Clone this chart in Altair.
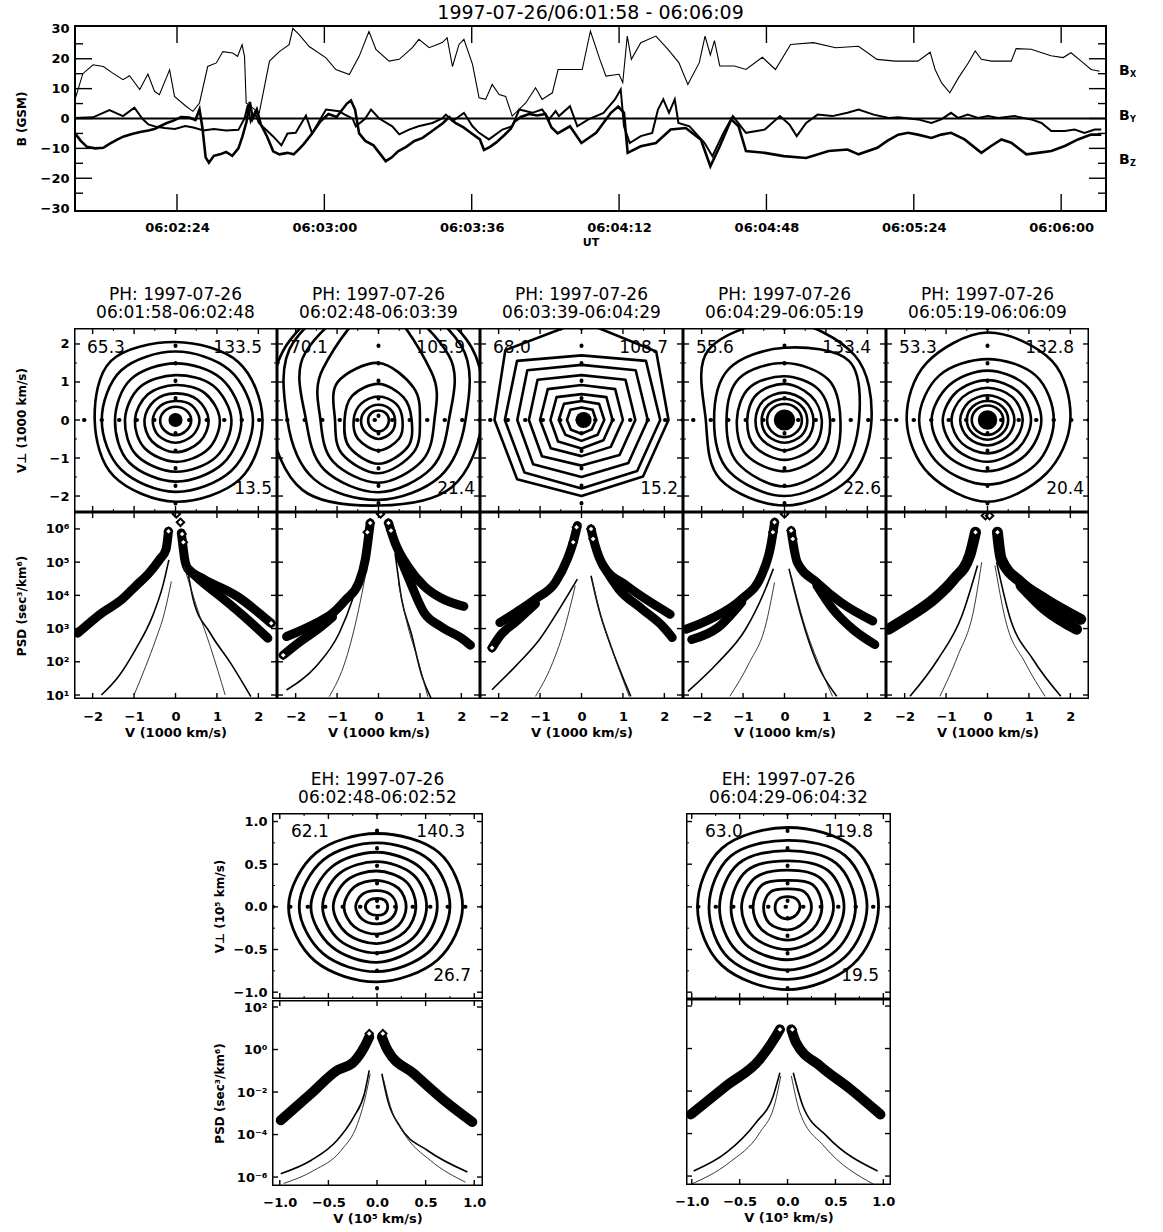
import math
import pandas as pd
import altair as alt

FONT = "DejaVu Sans"

# ---------------- magnetic field (nT), time in seconds after 06:01:58 UT ----------------
BX_T = [1.2, 3.0, 5.5, 8.0, 10.3, 12.8, 14.4, 16.9, 18.9, 20.5, 21.7, 24.2, 25.4, 28.2, 29.9,
        31.5, 33.5, 35.6, 37.2, 39.6, 40.8, 41.9, 42.5, 42.9, 46.1, 48.6, 51.0, 53.4, 54.3, 55.9,
        58.3, 62.4, 64.8, 68.1, 70.5, 72.9, 74.6, 77.8, 80.3, 83.5, 85.1, 87.6, 90.8, 92.0, 93.3,
        94.9, 96.1, 98.2, 99.8, 101.4, 103.0, 104.7, 106.3, 107.9, 111.2, 113.6, 115.2, 117.7, 119.1,
        125.0, 127.0, 129.3, 130.8, 134.0, 134.9, 136.0, 137.0, 139.3, 143.0, 145.9, 148.6, 150.8,
        153.6, 155.0, 156.3, 157.3, 158.6, 162.2, 165.0, 169.0, 172.2, 175.9, 181.5, 186.9, 192.5,
        197.0, 201.5, 207.0, 210.0, 211.2, 212.8, 214.8, 216.9, 219.3, 221.0, 222.5, 225.0, 229.8,
        231.0, 234.7, 239.5, 242.5, 244.4, 246.9, 249.3, 251.4]
BX_V = [6.9, 15.0, 18.0, 17.4, 15.2, 13.0, 14.3, 9.7, 14.9, 9.1, 8.0, 16.3, 7.4, 4.1, 2.4,
        5.2, 17.4, 18.6, 22.4, 21.9, 20.8, 24.7, 20.8, 5.2, 1.9, 19.2, 22.4, 24.7, 30.2, 28.0,
        24.1, 20.3, 16.4, 14.7, 20.8, 29.1, 23.1, 19.2, 19.8, 23.7, 26.5, 23.7, 25.4, 27.0, 17.4,
        24.8, 26.5, 18.1, 6.9, 6.4, 11.4, 8.0, 7.4, 0.8, 5.2, 10.3, 6.4, 8.6, 16.4,
        16.4, 29.3, 19.8, 14.2, 14.8, 12.0, 27.6, 19.8, 25.4, 27.6, 23.2, 18.7, 11.4,
        18.7, 27.6, 21.3, 26.1, 17.6, 17.6, 16.4, 20.5, 16.4, 24.8, 25.4, 23.7, 24.2,
        19.8, 19.2, 19.2, 22.2, 16.4, 11.9, 8.6, 13.6, 18.6, 22.6, 19.8, 19.2, 19.2,
        23.4, 23.2, 21.0, 20.4, 22.0, 19.2, 16.4, 15.8]

BY_T = [1.0, 5.5, 9.5, 12.8, 15.6, 17.5, 19.0, 21.0, 23.0, 25.5, 28.0, 30.0, 32.5, 35.0, 38.0,
        41.0, 42.5, 43.3, 44.0, 45.0, 46.0, 49.5, 51.5, 53.0, 55.0, 57.5, 59.0, 62.4, 65.6, 67.0,
        68.9, 69.7, 72.0, 73.4, 75.4, 78.6, 80.3, 82.7, 85.0, 88.4, 90.8, 91.7, 93.3, 96.1, 98.2,
        99.8, 102.2, 105.5, 107.9, 109.6, 112.8, 115.2, 116.9, 118.5,
        119.3, 122.0, 123.8, 126.5, 130.2, 133.0, 134.4, 135.2, 136.6, 139.3, 142.1, 143.5, 144.8,
        146.2, 147.6, 148.5, 151.2, 154.9, 156.8, 159.5, 161.8, 165.0, 169.6, 173.3, 175.6, 177.4,
        179.7, 182.5, 186.1, 189.8, 192.5, 196.2, 199.9,
        202.2, 207.0, 210.3, 212.7, 215.1, 216.8, 219.2, 221.7, 224.1, 226.6, 230.6, 234.7, 237.2,
        239.6, 242.9, 245.3, 247.7, 250.2, 251.8]
BY_V = [0.2, 0.4, 2.8, 0.8, 3.6, 0.0, -2.0, -2.8, -3.2, -3.5, -2.5, -3.0, -4.0, -3.5, -4.0,
        -3.8, 0.0, 4.5, -1.0, 2.0, -1.5, -6.0, -9.0, -5.0, -4.8, 1.0, -5.0, 3.0, 2.4, 1.3,
        0.0, -2.6, 0.0, 3.0, 0.0, -2.6, -5.3, -3.7, -2.6, -1.5, 0.0, 1.3, -0.9, 1.9, -2.6,
        -4.8, -7.0, -3.7, -2.6, 3.0, 1.9, 3.0, -0.3, 2.5,
        0.8, 4.1, -2.6, -0.3, 1.9, 6.4, 9.7, -2.6, -8.2, -5.9, -4.8, 3.0, 6.4,
        1.9, 6.4, -1.5, -2.6, -8.2, -12.6, -4.8, 0.8, -4.8, -3.7, 0.8, -2.0, -5.9,
        -1.5, 1.3, 0.8, 1.9, 3.0, 1.3, 0.2,
        0.4, -0.3, -1.5, -0.3, 1.9, 0.2, 1.3, 0.2, 0.8, 0.2, 0.8, -0.3, -1.5,
        -4.2, -4.2, -3.7, -4.8, -3.7, -3.7]

BZ_T = [1.0, 2.5, 4.0, 6.0, 8.0, 9.5, 11.5, 13.0, 15.0, 17.0, 19.0, 20.5, 22.0, 23.5, 25.0,
        27.0, 29.0, 30.5, 31.5, 32.2, 33.0, 33.8, 35.0, 36.5, 38.0, 39.5, 41.0, 42.0, 43.0, 43.8,
        44.5, 45.5, 46.5, 48.0, 49.5, 51.0, 53.0, 54.5, 56.0, 57.0, 59.0, 61.0, 63.0, 65.0, 67.5,
        68.5, 69.5, 70.5, 72.0, 74.0, 76.0, 77.0, 78.5, 80.0, 82.0, 84.0, 86.0, 88.0, 89.5, 91.0,
        92.5, 94.0, 96.0, 98.0, 100.0, 101.0, 102.5, 104.0, 106.0, 107.5, 108.5, 110.0, 112.0,
        114.0, 116.0, 117.5, 119.0,
        122.0, 124.8, 128.4, 132.0, 133.8, 135.2, 136.1, 139.3, 143.0, 146.6, 150.3, 154.0, 156.3,
        158.6, 161.4, 163.2, 165.0, 169.6, 174.2, 179.7, 185.2, 189.8, 192.5, 197.1, 199.5,
        202.2, 204.6, 207.0, 210.3, 212.7, 215.1, 218.4, 222.5, 224.9, 227.4, 229.8, 233.5, 236.3,
        239.6, 242.9, 246.1, 249.3, 251.8]
BZ_V = [-4.8, -7.5, -9.5, -10.0, -9.8, -8.5, -7.0, -6.0, -5.2, -4.5, -4.0, -3.5, -2.5, -1.5, -0.8,
        0.5, 0.3, -0.5, 3.0, -3.0, -13.0, -14.8, -12.5, -12.0, -11.2, -12.5, -10.0, -6.0, -1.0, 5.5,
        0.0, 3.0, -2.0, -6.0, -11.0, -12.0, -11.5, -12.0, -10.0, -8.5, -5.0, -1.0, 1.5, 0.5, 5.0,
        6.0, 3.0, -5.0, -7.5, -9.0, -12.5, -14.3, -13.0, -11.0, -9.5, -7.5, -6.5, -4.5, -3.0, -1.5,
        0.5, -1.5, -3.0, -5.0, -7.0, -10.5, -9.5, -8.0, -5.5, -3.5, -1.0, 0.5, 1.5,
        1.0, 1.5, -3.0, -5.0,
        -2.6, -8.2, -4.8, 1.9, 4.0, 1.9, -11.5, -9.3, -8.2, -3.7, -3.2, -7.1, -16.0,
        -9.3, -0.3, -2.6, -10.9, -11.5, -12.6, -13.2, -10.9, -10.4, -12.0, -9.8, -7.5,
        -5.4, -4.8, -5.4, -6.5, -5.4, -4.8, -7.0, -11.5, -9.2, -7.0, -8.1, -12.0, -11.5,
        -10.9, -9.2, -7.0, -5.4, -5.4]

TIME_TICKS = [26, 62, 98, 134, 170, 206, 242]
B_TICKS = [-30, -20, -10, 0, 10, 20, 30]
B_MAJOR_INNER = [-20, -10, 0, 10, 20]
B_MINOR_INNER = [-25, -15, -5, 5, 15, 25]
COMPONENTS = ["X", "Y", "Z"]
COMPONENT_LEVEL = [15.8, 0.7, -13.8]

# ---------------- distribution functions ----------------
# contour rings: radius at 0, 45, 90, ..., 315 degrees
RING_ANGLES = [0, 45, 90, 135, 180, 225, 270, 315]

PH_RINGS = [
    [[2.10, 2.15, 2.05, 2.20, 1.95, 2.10, 2.15, 2.20],
     [1.87, 1.85, 1.80, 1.85, 1.78, 1.85, 1.89, 1.90],
     [1.59, 1.55, 1.49, 1.52, 1.46, 1.58, 1.62, 1.62],
     [1.35, 1.28, 1.18, 1.22, 1.22, 1.32, 1.36, 1.38],
     [1.07, 1.00, 0.92, 0.95, 0.98, 1.05, 1.10, 1.10],
     [0.80, 0.75, 0.70, 0.72, 0.75, 0.80, 0.85, 0.82],
     [0.58, 0.55, 0.50, 0.52, 0.55, 0.58, 0.60, 0.58],
     [0.38, 0.36, 0.35, 0.35, 0.37, 0.38, 0.40, 0.38]],
    [[0.25, 0.25, 0.25, 0.25, 0.25, 0.27, 0.30, 0.27],
     [0.40, 0.40, 0.40, 0.40, 0.42, 0.45, 0.50, 0.45],
     [0.58, 0.60, 0.62, 0.60, 0.60, 0.70, 0.80, 0.70],
     [0.80, 0.85, 0.95, 0.90, 0.82, 1.00, 1.15, 1.00],
     [1.00, 1.20, 1.50, 1.40, 1.05, 1.25, 1.40, 1.20],
     [1.35, 1.80, 3.00, 1.90, 1.40, 1.55, 1.65, 1.50],
     [1.70, 2.40, 3.20, 2.50, 1.75, 1.85, 1.90, 1.80],
     [2.10, 2.80, 3.50, 2.90, 2.20, 2.20, 2.10, 2.10],
     [2.50, 3.00, 3.60, 3.00, 2.60, 2.60, 2.25, 2.50]],
    [[2.10, 2.55, 2.60, 2.60, 2.10, 2.20, 2.00, 2.10],
     [1.90, 2.20, 1.70, 2.20, 1.85, 1.95, 1.80, 1.90],
     [1.60, 1.85, 1.45, 1.85, 1.55, 1.65, 1.50, 1.60],
     [1.30, 1.50, 1.18, 1.50, 1.27, 1.35, 1.20, 1.30],
     [1.00, 1.15, 0.92, 1.15, 1.00, 1.05, 0.95, 1.00],
     [0.75, 0.85, 0.68, 0.85, 0.75, 0.80, 0.75, 0.75],
     [0.55, 0.60, 0.50, 0.60, 0.55, 0.55, 0.55, 0.55],
     [0.35, 0.38, 0.33, 0.38, 0.35, 0.36, 0.36, 0.35]],
    [[2.10, 2.40, 2.60, 2.60, 1.90, 2.20, 2.25, 2.20],
     [1.80, 2.20, 1.90, 1.90, 1.70, 1.90, 2.00, 1.90],
     [1.35, 1.50, 1.50, 1.55, 1.40, 1.60, 1.75, 1.60],
     [1.10, 1.15, 1.15, 1.20, 1.15, 1.30, 1.35, 1.25],
     [0.90, 0.90, 0.95, 0.95, 0.90, 1.00, 1.05, 1.00],
     [0.70, 0.70, 0.72, 0.72, 0.70, 0.75, 0.80, 0.75],
     [0.55, 0.55, 0.56, 0.56, 0.55, 0.58, 0.60, 0.58],
     [0.42, 0.42, 0.42, 0.42, 0.42, 0.43, 0.45, 0.43]],
    [[2.00, 2.20, 2.30, 2.10, 1.95, 2.00, 2.15, 2.00],
     [1.60, 1.65, 1.60, 1.65, 1.65, 1.65, 1.70, 1.65],
     [1.30, 1.30, 1.30, 1.30, 1.35, 1.35, 1.35, 1.30],
     [1.05, 1.05, 1.05, 1.05, 1.08, 1.08, 1.10, 1.05],
     [0.85, 0.85, 0.85, 0.85, 0.87, 0.87, 0.88, 0.85],
     [0.65, 0.65, 0.65, 0.65, 0.66, 0.66, 0.67, 0.65],
     [0.50, 0.50, 0.50, 0.50, 0.50, 0.50, 0.52, 0.50],
     [0.38, 0.38, 0.38, 0.38, 0.38, 0.38, 0.39, 0.38]],
]
PH_CORE = [(0.0, 0.0), None, (0.05, 0.0), (0.0, 0.0), (0.0, 0.0)]
PH_TITLES = [["PH: 1997-07-26", "06:01:58-06:02:48"],
             ["PH: 1997-07-26", "06:02:48-06:03:39"],
             ["PH: 1997-07-26", "06:03:39-06:04:29"],
             ["PH: 1997-07-26", "06:04:29-06:05:19"],
             ["PH: 1997-07-26", "06:05:19-06:06:09"]]
PH_NOTES = [["65.3", "133.5", "13.5"], ["70.1", "105.9", "21.4"], ["68.0", "108.7", "15.2"],
            ["55.6", "133.4", "22.6"], ["53.3", "132.8", "20.4"]]

# phase space density cuts: (v in 1000 km/s, log10 PSD)
PH_BANDS = [
    [[(-2.36, 2.86), (-1.79, 3.46), (-1.30, 3.87), (-0.97, 4.27), (-0.64, 4.67), (-0.39, 5.07), (-0.23, 5.38), (-0.17, 5.93)],
     [(0.14, 5.88), (0.18, 5.48), (0.22, 5.10), (0.30, 4.80), (0.67, 4.50), (1.49, 3.97), (2.31, 3.16)],
     [(0.30, 4.80), (0.60, 4.45), (1.08, 3.97), (1.66, 3.36), (2.23, 2.71)]],
    [[(-2.22, 2.76), (-1.51, 3.16), (-1.11, 3.46), (-0.79, 3.87), (-0.48, 4.37), (-0.32, 5.07), (-0.20, 6.18)],
     [(-2.30, 2.20), (-1.90, 2.60), (-1.50, 2.95), (-1.11, 3.35)],
     [(0.24, 6.18), (0.40, 5.58), (0.71, 4.87), (1.11, 4.27), (1.51, 3.92), (2.06, 3.67)],
     [(0.50, 5.20), (0.71, 4.57), (1.11, 3.46), (1.51, 3.06), (2.06, 2.66), (2.22, 2.50)]],
    [[(-1.97, 3.18), (-1.59, 3.48), (-1.11, 3.89), (-0.63, 4.39), (-0.34, 5.10), (-0.20, 5.60), (-0.10, 6.10)],
     [(-2.16, 2.42), (-1.97, 2.78), (-1.59, 3.20), (-1.11, 3.75)],
     [(0.23, 6.00), (0.33, 5.50), (0.52, 4.90), (1.09, 4.29), (1.67, 3.79), (2.14, 3.43)],
     [(0.52, 4.90), (0.90, 4.19), (1.47, 3.58), (1.95, 3.08), (2.19, 2.73)]],
    [[(-2.38, 2.98), (-1.80, 3.28), (-1.03, 3.89), (-0.56, 4.59), (-0.33, 5.50), (-0.24, 6.20)],
     [(-2.24, 2.67), (-1.61, 3.03), (-1.03, 3.80)],
     [(0.16, 5.95), (0.31, 4.99), (0.78, 4.39), (1.36, 3.79), (2.13, 3.23)],
     [(0.78, 4.30), (1.17, 3.58), (1.65, 2.98), (2.18, 2.52)]],
    [[(-2.39, 2.98), (-1.87, 3.38), (-1.29, 3.89), (-0.81, 4.49), (-0.43, 5.20), (-0.29, 5.90)],
     [(0.24, 5.90), (0.33, 5.10), (0.81, 4.39), (1.39, 3.89), (2.25, 3.28)],
     [(0.81, 4.30), (1.39, 3.58), (2.15, 2.98)]],
]
PH_PEAKS = [
    [(-0.17, 5.93), (0.02, 6.45), (0.12, 6.20), (0.16, 5.85), (0.19, 5.60), (2.31, 3.16)],
    [(-0.20, 6.18), (-0.27, 5.90), (0.05, 6.45), (0.24, 6.18), (0.30, 5.95), (-2.30, 2.20)],
    [(-0.12, 6.05), (-0.20, 5.60), (0.23, 6.00), (0.28, 5.70), (-2.16, 2.42)],
    [(-0.24, 6.20), (-0.28, 5.90), (0.00, 6.45), (0.16, 5.95), (0.20, 5.70)],
    [(-0.29, 5.90), (-0.05, 6.40), (0.05, 6.40), (0.24, 5.90)],
]
# model curves: left broad, left narrow, right broad, right narrow
PH_MODELS = [
    [[(-1.79, 1.00), (-1.38, 1.55), (-0.97, 2.36), (-0.56, 3.36), (-0.31, 4.27), (-0.16, 5.07)],
     [(-1.00, 1.00), (-0.72, 1.86), (-0.48, 2.66), (-0.27, 3.46), (-0.10, 4.42)],
     [(0.25, 5.07), (0.43, 3.87), (0.84, 2.86), (1.33, 1.96), (1.82, 0.95)],
     [(0.20, 4.90), (0.51, 3.66), (0.84, 2.46), (1.20, 1.00)]],
    [[(-2.22, 1.15), (-1.51, 1.86), (-0.95, 2.86), (-0.63, 3.87), (-0.40, 4.87)],
     [(-1.19, 0.95), (-0.79, 2.06), (-0.48, 3.57), (-0.32, 4.57)],
     [(0.40, 5.28), (0.56, 3.87), (0.79, 2.86), (1.03, 1.65), (1.27, 0.90)],
     [(0.48, 4.37), (0.71, 3.06), (0.95, 2.06), (1.19, 0.95)]],
    [[(-2.16, 1.16), (-1.59, 1.87), (-1.01, 2.68), (-0.54, 3.58), (-0.10, 4.49)],
     [(-1.11, 0.96), (-0.73, 1.87), (-0.44, 2.88), (-0.15, 4.29)],
     [(0.23, 4.59), (0.42, 3.58), (0.71, 2.47), (1.19, 0.96)],
     [(0.25, 4.50), (0.45, 3.45), (0.74, 2.36), (1.15, 0.96)]],
    [[(-2.33, 1.11), (-1.61, 1.97), (-0.94, 2.98), (-0.46, 4.19), (-0.27, 4.80)],
     [(-1.32, 0.96), (-0.85, 1.97), (-0.46, 3.08), (-0.24, 4.39)],
     [(0.11, 4.80), (0.40, 3.38), (0.78, 1.97), (1.26, 0.96)],
     [(0.16, 4.60), (0.45, 3.25), (0.88, 1.77), (1.16, 0.96)]],
    [[(-1.87, 0.96), (-1.20, 2.07), (-0.62, 3.38), (-0.24, 4.90)],
     [(-1.15, 0.96), (-0.72, 2.17), (-0.33, 3.58), (-0.14, 5.00)],
     [(0.22, 5.00), (0.53, 3.38), (1.10, 2.07), (1.77, 0.96)],
     [(0.18, 4.90), (0.43, 3.28), (0.91, 1.97), (1.39, 0.96)]],
]

EH_RINGS = [
    [[0.88, 0.90, 0.86, 0.89, 0.91, 0.90, 0.88, 0.88],
     [0.75, 0.77, 0.75, 0.78, 0.80, 0.78, 0.76, 0.75],
     [0.62, 0.64, 0.64, 0.66, 0.68, 0.66, 0.65, 0.62],
     [0.51, 0.53, 0.53, 0.55, 0.56, 0.55, 0.54, 0.52],
     [0.40, 0.42, 0.42, 0.44, 0.45, 0.44, 0.43, 0.41],
     [0.30, 0.31, 0.31, 0.33, 0.34, 0.33, 0.32, 0.31],
     [0.20, 0.20, 0.19, 0.21, 0.22, 0.21, 0.20, 0.20],
     [0.11, 0.11, 0.10, 0.11, 0.12, 0.11, 0.10, 0.11]],
    [[0.95, 0.98, 0.93, 0.97, 0.94, 0.97, 0.97, 0.96],
     [0.83, 0.85, 0.78, 0.84, 0.82, 0.86, 0.85, 0.84],
     [0.71, 0.72, 0.66, 0.72, 0.71, 0.74, 0.74, 0.72],
     [0.59, 0.60, 0.54, 0.60, 0.59, 0.62, 0.62, 0.60],
     [0.48, 0.48, 0.43, 0.48, 0.48, 0.50, 0.50, 0.48],
     [0.36, 0.37, 0.31, 0.37, 0.36, 0.38, 0.39, 0.37],
     [0.25, 0.25, 0.21, 0.25, 0.25, 0.27, 0.27, 0.25],
     [0.13, 0.13, 0.12, 0.13, 0.13, 0.14, 0.14, 0.13]],
]
EH_TITLES = [["EH: 1997-07-26", "06:02:48-06:02:52"],
             ["EH: 1997-07-26", "06:04:29-06:04:32"]]
EH_NOTES = [["62.1", "140.3", "26.7"], ["63.0", "119.8", "19.5"]]
EH_BANDS = [
    [[(-0.99, -3.33), (-0.68, -2.08), (-0.41, -0.98), (-0.24, -0.59), (-0.13, 0.12), (-0.08, 0.59)],
     [(0.05, 0.59), (0.11, -0.04), (0.38, -1.14), (0.69, -2.39), (0.98, -3.41)]],
    [[(-1.01, -3.10), (-0.64, -1.76), (-0.29, -0.51), (-0.12, 0.59), (-0.08, 0.90)],
     [(0.04, 0.90), (0.09, 0.27), (0.34, -0.82), (0.66, -1.92), (0.97, -3.10)]],
]
EH_PEAKS = [[(-0.08, 0.75), (0.06, 0.75)], [(-0.08, 0.90), (0.05, 0.90)]]
EH_MODELS = [
    [[(-0.99, -5.84), (-0.68, -5.22), (-0.41, -4.27), (-0.24, -3.18), (-0.13, -2.08), (-0.08, -0.98)],
     [(-0.96, -6.30), (-0.65, -5.69), (-0.37, -4.75), (-0.20, -3.49), (-0.12, -2.24), (-0.07, -1.14)],
     [(0.05, -1.14), (0.11, -2.39), (0.24, -3.65), (0.52, -4.75), (0.93, -5.76)],
     [(0.07, -1.45), (0.14, -2.70), (0.28, -3.96), (0.55, -5.22), (0.91, -6.24)]],
    [[(-0.98, -5.76), (-0.64, -4.90), (-0.33, -3.49), (-0.15, -2.24), (-0.08, -1.14)],
     [(-1.01, -6.39), (-0.61, -5.37), (-0.29, -3.96), (-0.13, -2.55), (-0.07, -1.29)],
     [(0.06, -1.14), (0.16, -2.70), (0.41, -4.12), (0.94, -5.76)],
     [(0.04, -1.29), (0.13, -3.02), (0.38, -4.59), (0.90, -6.39)]],
]

SUP = str.maketrans("-0123456789", "⁻⁰¹²³⁴⁵⁶⁷⁸⁹")


def decade_label_expr(emin, emax):
    names = ["'10" + str(e).translate(SUP) + "'" for e in range(emin, emax + 1)]
    return "[" + ",".join(names) + "][round(log(datum.value) / LN10) - (" + str(emin) + ")]"


def ring_table(rings):
    rows = []
    for i, radii in enumerate(rings):
        for k, r in enumerate(radii):
            a = math.radians(RING_ANGLES[k])
            rows.append({"ring": i, "k": k, "vx": r * math.cos(a), "vy": r * math.sin(a)})
    return pd.DataFrame(rows)


def branch_table(branches):
    rows = []
    for i, br in enumerate(branches):
        for v, lg in br:
            rows.append({"branch": i, "v": v, "f": 10.0 ** lg})
    return pd.DataFrame(rows)


def plain_axis(**kw):
    opts = dict(ticks=False, domain=False, grid=False, labelFontSize=13, titleFontSize=12)
    opts.update(kw)
    return alt.Axis(**opts)


ONE = pd.DataFrame({"a": [0]})


def frame(w, h, width):
    # panel border, clipped so that only its inner half shows
    return alt.Chart(ONE).mark_rect(fillOpacity=0, stroke="black", strokeWidth=width, clip=True).encode(
        x=alt.value(0), x2=alt.value(w), y=alt.value(0), y2=alt.value(h))


def edge_ticks(X, Y, xt, yt, w, h, L, sw=1.4):
    layers = []
    if xt:
        m = alt.Chart(pd.DataFrame({"tx": xt})).mark_rule(color="black", strokeWidth=sw, clip=True)
        layers.append(m.encode(x=X("tx"), y=alt.value(h - L), y2=alt.value(h)))
        layers.append(m.encode(x=X("tx"), y=alt.value(0), y2=alt.value(L)))
    if yt:
        m = alt.Chart(pd.DataFrame({"ty": yt})).mark_rule(color="black", strokeWidth=sw, clip=True)
        layers.append(m.encode(y=Y("ty"), x=alt.value(0), x2=alt.value(L)))
        layers.append(m.encode(y=Y("ty"), x=alt.value(w - L), x2=alt.value(w)))
    return layers


def velocity_panel(rings, core, core_size, notes, title, w, h, xdom, ydom,
                   major, minor, y_axis, inset, ring_width, shape):
    xs = alt.Scale(domain=xdom, nice=False, zero=False)
    ys = alt.Scale(domain=ydom, nice=False, zero=False)

    def X(f):
        return alt.X(f, type="quantitative", scale=xs, axis=None)

    def Y(f):
        return alt.Y(f, type="quantitative", scale=ys, axis=y_axis)

    layers = [alt.Chart(ring_table(rings)).mark_line(
        interpolate=shape, color="black", strokeWidth=ring_width, strokeJoin="round", clip=True
    ).encode(x=X("vx"), y=Y("vy"), detail="ring:N", order=alt.Order("k:Q"))]

    zero = pd.DataFrame({"z": [0.0]})
    dots = dict(color="black", strokeWidth=4, strokeCap="round", strokeDash=[0.5, 17], clip=True)
    layers.append(alt.Chart(zero).mark_rule(**dots).encode(x=X("z")))
    layers.append(alt.Chart(zero).mark_rule(**dots).encode(y=Y("z")))

    if core is not None:
        layers.append(alt.Chart(pd.DataFrame({"cx": [core[0]], "cy": [core[1]]})).mark_circle(
            color="black", opacity=1, size=core_size, clip=True).encode(x=X("cx"), y=Y("cy")))

    lx, ty, rx, bx, by = inset
    txt = dict(font=FONT, fontSize=17, color="black", baseline="alphabetic", clip=True)
    for s, align, px, py in [(notes[0], "left", lx, ty), (notes[1], "right", w - rx, ty),
                             (notes[2], "right", w - bx, h - by)]:
        layers.append(alt.Chart(pd.DataFrame({"s": [s]})).mark_text(align=align, **txt).encode(
            text="s:N", x=alt.value(px), y=alt.value(py)))

    layers += edge_ticks(X, Y, major, major, w, h, 6)
    layers += edge_ticks(X, Y, minor, minor, w, h, 3, sw=1.0)
    layers.append(frame(w, h, 3))

    return alt.layer(*layers).properties(
        width=w, height=h,
        title=alt.TitleParams(text=title, fontSize=17, fontWeight="normal", lineHeight=18,
                              offset=6, anchor="middle", frame="group"))


def psd_panel(bands, models, peaks, w, h, xdom, ydom, x_axis, y_axis, xt, yt, band_width):
    xs = alt.Scale(domain=xdom, nice=False, zero=False)
    ys = alt.Scale(type="log", domain=ydom, nice=False)

    def X(f):
        return alt.X(f, type="quantitative", scale=xs, axis=x_axis)

    def Y(f):
        return alt.Y(f, type="quantitative", scale=ys, axis=y_axis)

    layers = [
        alt.Chart(branch_table(bands)).mark_line(
            color="black", strokeWidth=band_width, strokeCap="round", strokeJoin="round",
            interpolate="monotone", clip=True
        ).encode(x=X("v"), y=Y("f"), detail="branch:N"),
        alt.Chart(branch_table([models[0], models[2]])).mark_line(
            color="black", strokeWidth=1.6, interpolate="monotone", clip=True
        ).encode(x=X("v"), y=Y("f"), detail="branch:N"),
        alt.Chart(branch_table([models[1], models[3]])).mark_line(
            color="#222222", strokeWidth=0.9, interpolate="monotone", clip=True
        ).encode(x=X("v"), y=Y("f"), detail="branch:N"),
        alt.Chart(branch_table([peaks])).mark_point(
            shape="diamond", filled=True, fill="white", stroke="black", strokeWidth=2,
            size=55, opacity=1, clip=True
        ).encode(x=X("v"), y=Y("f")),
    ]
    layers += edge_ticks(X, Y, xt, yt, w, h, 6)
    layers.append(frame(w, h, 3))
    return alt.layer(*layers).properties(width=w, height=h)


# ---------------- top panel: field components ----------------
TOP_W, TOP_H = 1033, 187
tx_scale = alt.Scale(domain=[0.84, 253.2], nice=False, zero=False)
ty_scale = alt.Scale(domain=[-31.3, 31.3], nice=False, zero=False)
time_axis = plain_axis(values=TIME_TICKS, title="UT", labelPadding=9, titleFontSize=11, titlePadding=2,
                       labelExpr="timeFormat(datetime(1997, 6, 26, 6, 1, 58 + datum.value), '%H:%M:%S')")
b_axis = plain_axis(values=B_TICKS, title="B (GSM)", labelPadding=5, titlePadding=15,
                    minExtent=31, maxExtent=31)


def TX(f):
    return alt.X(f, type="quantitative", scale=tx_scale, axis=time_axis)


def TY(f):
    return alt.Y(f, type="quantitative", scale=ty_scale, axis=b_axis)


bx_df = pd.DataFrame({"t": BX_T, "B": BX_V})
by_df = pd.DataFrame({"t": BY_T, "B": BY_V})
bz_df = pd.DataFrame({"t": BZ_T, "B": BZ_V})
lbl_df = pd.DataFrame({"lvl": COMPONENT_LEVEL, "b": ["B"] * 3, "c": COMPONENTS})

top_layers = [
    alt.Chart(pd.DataFrame({"z": [0.0]})).mark_rule(color="black", strokeWidth=2).encode(y=TY("z")),
    alt.Chart(bx_df).mark_line(color="black", strokeWidth=1.1).encode(x=TX("t"), y=TY("B")),
    alt.Chart(by_df).mark_line(color="black", strokeWidth=2.0).encode(x=TX("t"), y=TY("B")),
    alt.Chart(bz_df).mark_line(color="black", strokeWidth=2.6).encode(x=TX("t"), y=TY("B")),
    alt.Chart(lbl_df).mark_text(align="left", baseline="middle", font=FONT, fontSize=14,
                                fontWeight="bold", color="black").encode(
        x=alt.value(1045), y=TY("lvl"), text="b:N"),
    alt.Chart(lbl_df).mark_text(align="left", baseline="middle", font=FONT, fontSize=8,
                                fontWeight="bold", color="black", dy=4).encode(
        x=alt.value(1056), y=TY("lvl"), text="c:N"),
]
top_layers += edge_ticks(TX, TY, TIME_TICKS, B_MAJOR_INNER, TOP_W, TOP_H, 18)
top_layers += edge_ticks(TX, TY, [], B_MINOR_INNER, TOP_W, TOP_H, 9)
top_layers.append(frame(TOP_W, TOP_H, 4))

top = alt.layer(*top_layers).properties(
    width=TOP_W, height=TOP_H,
    title=alt.TitleParams(text="1997-07-26/06:01:58 - 06:06:09", fontSize=19, fontWeight="normal",
                          offset=0, anchor="middle", frame="group"))

# ---------------- middle row: five PH intervals ----------------
PH_W, PH_CH, PH_PH = 203, 184, 187
PH_XDOM, PH_YDOM = [-2.45, 2.45], [-2.42, 2.42]
PH_PSD_DOM = [10 ** 0.88, 10 ** 6.51]
PH_MAJOR = [-2, -1, 0, 1, 2]
PH_MINOR = [-1.5, -0.5, 0.5, 1.5]
PH_DECADES = [10.0 ** e for e in range(1, 7)]
PH_SHAPES = ["cardinal-closed", "cardinal-closed", "linear-closed", "cardinal-closed", "cardinal-closed"]
PH_CORE_SIZE = [200, 0, 260, 450, 380]

cols = []
for i in range(5):
    first = i == 0
    vy_axis = plain_axis(values=PH_MAJOR, format="d", title="V⊥ (1000 km/s)", labelPadding=5,
                         titlePadding=24, minExtent=22, maxExtent=22) if first else None
    contour = velocity_panel(PH_RINGS[i], PH_CORE[i], PH_CORE_SIZE[i], PH_NOTES[i],
                             PH_TITLES[i], PH_W, PH_CH, PH_XDOM, PH_YDOM, PH_MAJOR, PH_MINOR,
                             vy_axis, (13, 25, 15, 5, 18), 2.6, PH_SHAPES[i])
    px_axis = plain_axis(values=PH_MAJOR, format="d", title="V (1000 km/s)", labelPadding=11,
                         titleFontSize=13, titlePadding=3)
    py_axis = plain_axis(values=PH_DECADES, labelExpr=decade_label_expr(1, 6), title="PSD (sec³/km⁶)",
                         labelPadding=5, titlePadding=16, minExtent=30, maxExtent=30) if first else None
    psd = psd_panel(PH_BANDS[i], PH_MODELS[i], PH_PEAKS[i], PH_W, PH_PH, PH_XDOM, PH_PSD_DOM,
                    px_axis, py_axis, PH_MAJOR, PH_DECADES, 9 if i < 4 else 11)
    cols.append(alt.vconcat(contour, psd, spacing=0))

middle = alt.hconcat(*cols, spacing=0)

# ---------------- bottom row: two EH intervals ----------------
EH_WS = [211, 205]
EH_XDOMS = [[-1.08, 1.09], [-1.06, 1.08]]
EH_CH, EH_PH = 186, 186
EH_YDOM = [-1.08, 1.10]
EH_PSD_DOM = [10 ** -6.42, 10 ** 2.33]
EH_MAJOR = [-1.0, -0.5, 0.0, 0.5, 1.0]
EH_MINOR = [-0.75, -0.25, 0.25, 0.75]
EH_DECADES = [10.0 ** e for e in range(-6, 3, 2)]

eh_cols = []
for i in range(2):
    first = i == 0
    vy_axis = plain_axis(values=EH_MAJOR, format=".1f", title="V⊥ (10⁵ km/s)", labelPadding=5,
                         titlePadding=22, minExtent=24, maxExtent=24) if first else None
    contour = velocity_panel(EH_RINGS[i], None, 0, EH_NOTES[i], EH_TITLES[i], EH_WS[i], EH_CH,
                             EH_XDOMS[i], EH_YDOM, EH_MAJOR, EH_MINOR, vy_axis,
                             (19, 24, 18, 12, 18), 2.8, "cardinal-closed")
    px_axis = plain_axis(values=EH_MAJOR, format=".1f", title="V (10⁵ km/s)", labelPadding=10,
                         titleFontSize=13, titlePadding=3)
    py_axis = plain_axis(values=EH_DECADES, labelExpr=decade_label_expr(-6, 2), title="PSD (sec³/km⁶)",
                         labelPadding=5, titlePadding=10, minExtent=36, maxExtent=36) if first else None
    psd = psd_panel(EH_BANDS[i], EH_MODELS[i], EH_PEAKS[i], EH_WS[i], EH_PH, EH_XDOMS[i], EH_PSD_DOM,
                    px_axis, py_axis, EH_MAJOR, EH_DECADES, 10)
    eh_cols.append(alt.vconcat(contour, psd, spacing=0))

spacer = alt.Chart(ONE).mark_point(opacity=0).encode(
    x=alt.X("a:Q", axis=None), y=alt.Y("a:Q", axis=None)
).properties(width=1, height=1)

bottom = alt.hconcat(spacer, alt.hconcat(*eh_cols, spacing=188), spacing=135)

chart = alt.vconcat(top, alt.vconcat(middle, bottom, spacing=32), spacing=39).properties(
    padding={"left": 15, "top": 3, "right": 5, "bottom": 5}, background="white"
).configure_view(
    stroke="transparent", strokeWidth=0
).configure_axis(
    labelFont=FONT, titleFont=FONT, labelFontWeight="bold", titleFontWeight="bold",
    labelColor="black", titleColor="black"
).configure_title(
    font=FONT, color="black"
)

chart.save("out.html", embed_options={"renderer": "svg", "actions": False})
